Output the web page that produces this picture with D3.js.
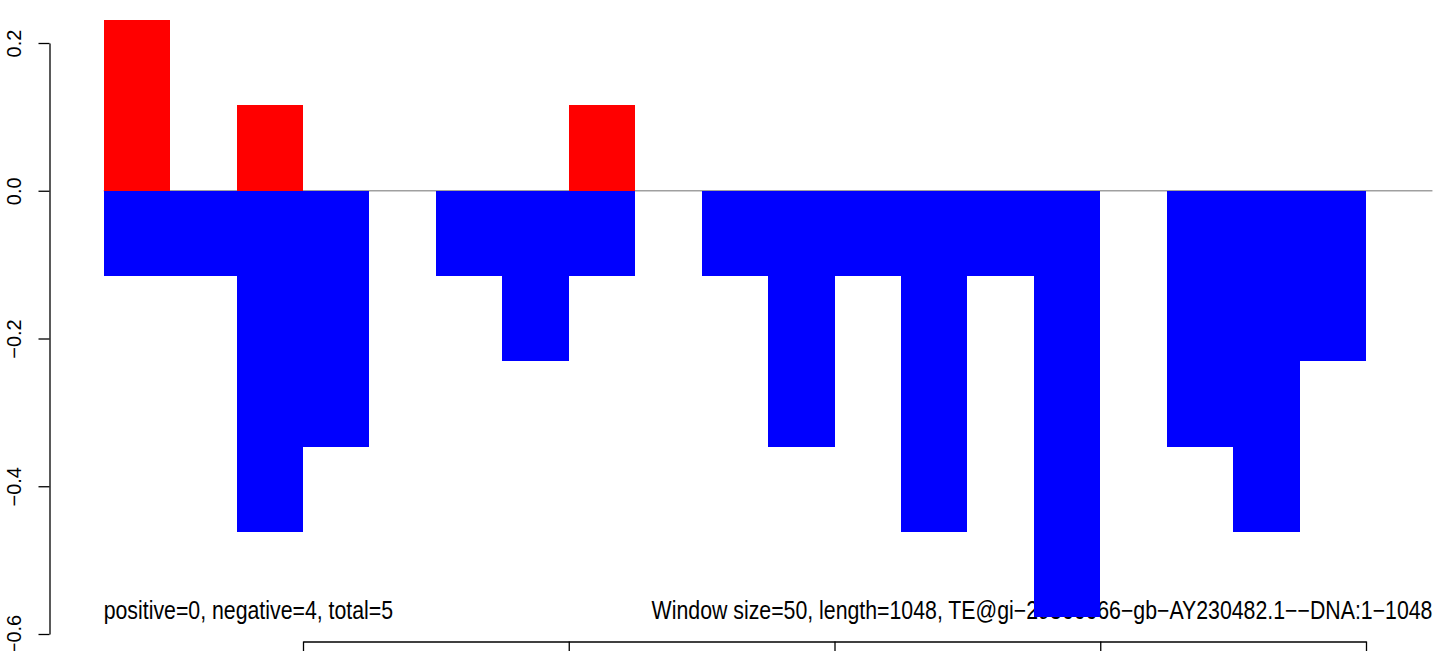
<!DOCTYPE html>
<html><head><meta charset="utf-8">
<script src="https://cdn.jsdelivr.net/npm/d3@7"></script>
<style>body{margin:0;background:#fff}svg{display:block}</style>
</head><body><svg id="c" width="1444" height="651"></svg>
<script>
const windowStarts = [50,100,150,200,250,300,350,400,450,500,550,600,650,700,750,800,850,900,950,1000];
const positiveValues = [0.231,0,0.1155,0,0,0,0,0.1155,0,0,0,0,0,0,0,0,0,0,0,0];
const negativeValues = [-0.1155,-0.1155,-0.462,-0.3465,0,-0.1155,-0.231,-0.1155,0,-0.1155,-0.3465,-0.1155,-0.462,-0.1155,-0.5775,0,-0.3465,-0.462,-0.231,0];
const yTicks = [0.2, 0.0, -0.2, -0.4, -0.6];
const xTicks = [200, 400, 600, 800, 1000];
const windowSize = 50;
const seqStart = 50, seqEnd = 1050;
const leftNote = "positive=0, negative=4, total=5";
const rightNote = "Window size=50, length=1048, TE@gi\u221229366666\u2212gb\u2212AY230482.1\u2212\u2212DNA:1\u22121048";

const svg = d3.select("#c");
const x = d3.scaleLinear().domain([200, 1000]).range([303, 1366]);
const y = d3.scaleLinear().domain([0.2, -0.6]).range([43, 634]);
const SY = 1.17;
const fmt = v => (v < 0 ? "\u2212" : "") + Math.abs(v).toFixed(1);
const FONT = "Liberation Sans, Arial, sans-serif";

// zero line
svg.append("line")
  .attr("x1", x(seqStart)).attr("x2", x(seqEnd))
  .attr("y1", y(0)).attr("y2", y(0))
  .attr("stroke", "#a0a0a0").attr("stroke-width", 1.5);

// notes
svg.append("text")
  .attr("transform", `translate(${x(seqStart)},619) scale(1,${SY})`)
  .attr("font-family", FONT)
  .attr("font-size", 21.3).attr("fill", "#000")
  .text(leftNote);
svg.append("text")
  .attr("transform", `translate(${x(seqEnd)},619) scale(1,${SY})`)
  .attr("font-family", FONT)
  .attr("font-size", 21.3).attr("fill", "#000")
  .attr("text-anchor", "end")
  .text(rightNote);

const data = windowStarts.map((s, i) => ({s, pos: positiveValues[i], neg: negativeValues[i]}));

svg.append("g").selectAll("rect").data(data.filter(d => d.pos > 0)).join("rect")
  .attr("x", d => x(d.s)).attr("width", d => x(d.s + windowSize) - x(d.s))
  .attr("y", d => y(d.pos)).attr("height", d => y(0) - y(d.pos))
  .attr("fill", "#ff0000").attr("shape-rendering", "crispEdges");

svg.append("g").selectAll("rect").data(data.filter(d => d.neg < 0)).join("rect")
  .attr("x", d => x(d.s)).attr("width", d => x(d.s + windowSize) - x(d.s))
  .attr("y", d => y(0)).attr("height", d => y(d.neg) - y(0))
  .attr("fill", "#0000ff").attr("shape-rendering", "crispEdges");

// y axis
const yAxis = d3.axisLeft(y).tickValues(yTicks).tickSize(11).tickSizeOuter(0).tickFormat(fmt);
const gy = svg.append("g").attr("transform", "translate(49.5,0)").call(yAxis);
gy.select(".domain").attr("stroke", "#000").attr("stroke-width", 1.3);
gy.selectAll(".tick line").attr("stroke", "#000").attr("stroke-width", 1.3);
gy.selectAll(".tick text")
  .attr("x", null).attr("dy", null)
  .attr("transform", "translate(-28.5,0) rotate(-90)")
  .attr("text-anchor", "middle")
  .attr("font-family", FONT)
  .attr("font-size", 20).attr("fill", "#000");

// x axis (tick labels fall below the visible area, as in the reference)
const xAxis = d3.axisBottom(x).tickValues(xTicks).tickSize(14).tickSizeOuter(0).tickFormat("");
const gx = svg.append("g").attr("transform", "translate(0,641.5)").call(xAxis);
gx.select(".domain").attr("stroke", "#000").attr("stroke-width", 1.3);
gx.selectAll(".tick line").attr("stroke", "#000").attr("stroke-width", 1.3);
</script></body></html>
